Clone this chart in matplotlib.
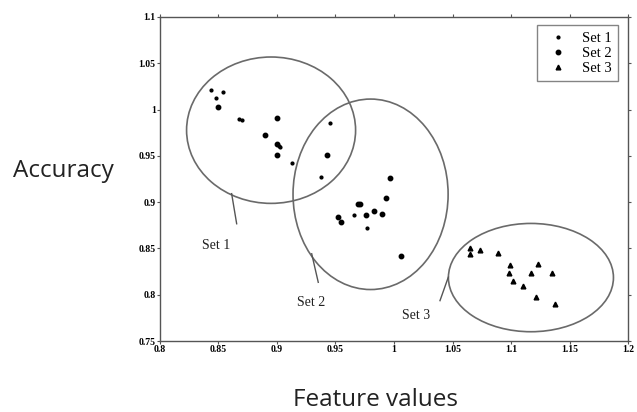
import numpy as np
from matplotlib import pyplot as plt
from matplotlib.patches import Ellipse

# Data
set1_x = [0.8436, 0.854, 0.8476, 0.868, 0.870, 0.902, 0.903, 0.9125, 0.945, 0.938, 0.966, 0.977]
set1_y = [1.021, 1.019, 1.012, 0.990, 0.9885, 0.961, 0.960, 0.942, 0.985, 0.927, 0.8865, 0.872]
set2_x = [0.850, 0.890, 0.900, 0.900, 0.900, 0.943, 0.997, 0.993, 0.969, 0.971, 0.952, 0.955, 0.976, 0.983, 0.990, 1.006]
set2_y = [1.003, 0.972, 0.991, 0.963, 0.951, 0.951, 0.9265, 0.905, 0.8976, 0.8976, 0.884, 0.879, 0.886, 0.891, 0.8876, 0.842]
set3_x = [1.065, 1.065, 1.0735, 1.089, 1.099, 1.098, 1.117, 1.123, 1.135, 1.102, 1.1105, 1.121, 1.1376]
set3_y = [0.850, 0.844, 0.848, 0.8455, 0.832, 0.8237, 0.8237, 0.8334, 0.8233, 0.8154, 0.810, 0.7973, 0.790]

# ellipse (center x, center y, width, height) around each set
ell_cx = [0.895, 0.980, 1.117]
ell_cy = [0.9777, 0.9085, 0.8186]
ell_w = [0.1444, 0.1325, 0.141]
ell_h = [0.158, 0.2056, 0.1169]

# cluster labels and leader lines
lab_text = ['Set 1', 'Set 2', 'Set 3']
lab_xy = [(0.8356, 0.8532), (0.9168, 0.7919), (1.0068, 0.7775)]
line_x = [(0.8613, 0.8656), (0.9297, 0.9353), (1.0464, 1.0393)]
line_y = [(0.9092, 0.8767), (0.8443, 0.8135), (0.8190, 0.7937)]

xticks = [0.8, 0.85, 0.9, 0.95, 1.0, 1.05, 1.1, 1.15, 1.2]
xtick_labels = ['0.8', '0.85', '0.9', '0.95', '1', '1.05', '1.1', '1.15', '1.2']
yticks = [0.75, 0.8, 0.85, 0.9, 0.95, 1.0, 1.05, 1.1]
ytick_labels = ['0.75', '0.8', '0.85', '0.9', '0.95', '1', '1.05', '1.1']

fig = plt.figure(figsize=(6.37, 4.12), dpi=100)
ax = fig.add_axes([0.251, 0.172, 0.735, 0.787])

ax.plot(set1_x, set1_y, linestyle='none', marker='o', markersize=2, color='black', label='Set 1')
ax.plot(set2_x, set2_y, linestyle='none', marker='o', markersize=3.2, color='black', label='Set 2')
ax.plot(set3_x, set3_y, linestyle='none', marker='^', markersize=3.4, color='black', label='Set 3')

for cx, cy, w, h in zip(ell_cx, ell_cy, ell_w, ell_h):
    ax.add_patch(Ellipse((cx, cy), w, h, fill=False, edgecolor='#6a6a6a', linewidth=1.2))

for txt, xy, lx, ly in zip(lab_text, lab_xy, line_x, line_y):
    ax.plot(lx, ly, color='#555555', linewidth=1)
    ax.text(xy[0], xy[1], txt, family='Liberation Serif', fontsize=10, va='center', color='#222222')

ax.set_xlim(0.8, 1.2)
ax.set_ylim(0.75, 1.1)
ax.set_xticks(xticks)
ax.set_xticklabels(xtick_labels, family='Liberation Serif', fontsize=7, fontweight='bold')
ax.set_yticks(yticks)
ax.set_yticklabels(ytick_labels, family='Liberation Serif', fontsize=7, fontweight='bold')
ax.tick_params(direction='out', top=True, right=True, length=2.5, pad=0.5, color='#555555')
for s in ax.spines.values():
    s.set_color('#555555')
    s.set_linewidth(1)

leg = ax.legend(loc='upper right', prop={'family': 'Liberation Serif', 'size': 10.5},
                handletextpad=0.6, borderpad=0.45, labelspacing=0.12, handlelength=2.0,
                borderaxespad=0, fancybox=False, edgecolor='#666666',
                bbox_to_anchor=(0.9786, 0.975))
leg.get_frame().set_linewidth(1)

fig.text(0.100, 0.585, 'Accuracy', family='Open Sans', fontsize=17.5, ha='center', va='center', color='#222222')
fig.text(0.590, 0.028, 'Feature values', family='Open Sans', fontsize=17.5, ha='center', va='center', color='#222222')

fig.savefig('out.png', dpi=100)
